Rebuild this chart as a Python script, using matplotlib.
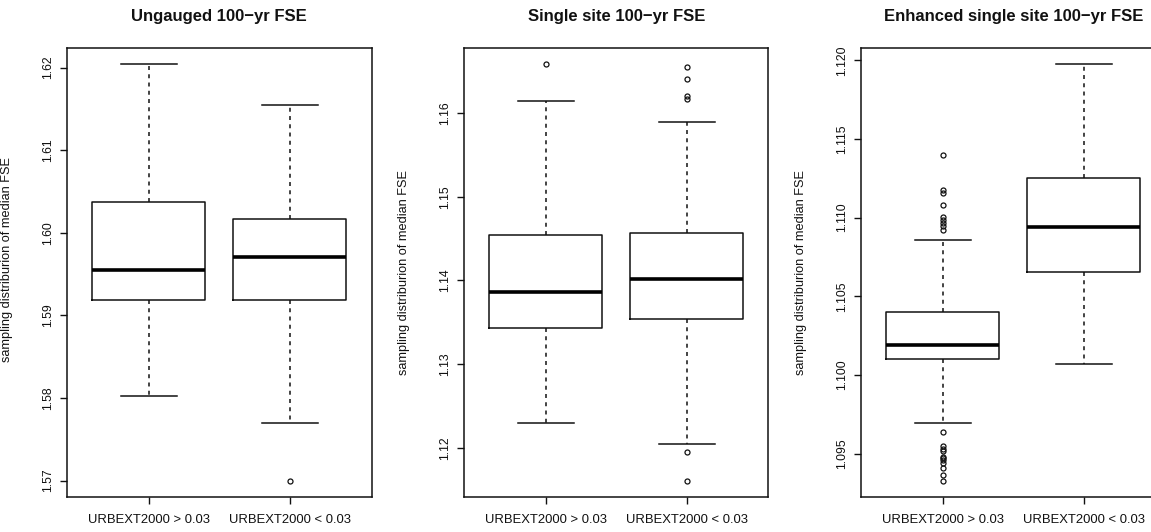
import matplotlib
matplotlib.use("Agg")
import matplotlib.pyplot as plt
import numpy as np

plt.rcParams['font.family'] = ['Liberation Sans', 'DejaVu Sans']

groups = ["URBEXT2000 > 0.03", "URBEXT2000 < 0.03"]
titles = ["Ungauged 100\u2212yr FSE", "Single site 100\u2212yr FSE",
          "Enhanced single site 100\u2212yr FSE"]
ylabel = "sampling distriburion of median FSE"

# box stats: whislo, q1, med, q3, whishi
ungauged_stats = [
    [1.58026, 1.59192, 1.59553, 1.60378, 1.62040],
    [1.57697, 1.59183, 1.59709, 1.60169, 1.61548],
]
ungauged_fliers = [[], [1.5700]]

single_stats = [
    [1.12296, 1.13426, 1.13864, 1.14541, 1.16142],
    [1.12040, 1.13536, 1.14018, 1.14569, 1.15891],
]
single_fliers = [
    [1.16584],
    [1.16551, 1.16405, 1.16210, 1.16167, 1.11951, 1.11607],
]

enhanced_stats = [
    [1.09693, 1.10100, 1.10189, 1.10400, 1.10858],
    [1.10072, 1.10655, 1.10940, 1.11249, 1.11974],
]
enhanced_fliers = [
    [1.11396, 1.11173, 1.11156, 1.11078, 1.11001, 1.10982, 1.10963,
     1.10944, 1.10923,
     1.09640, 1.09546, 1.09530, 1.09515, 1.09481, 1.09470, 1.09460,
     1.09438, 1.09406, 1.09362, 1.09328],
    [],
]

yticks = [np.arange(1.57, 1.6201, 0.01), np.arange(1.12, 1.1601, 0.01),
          np.arange(1.095, 1.1201, 0.005)]
yfmt = ["%.2f", "%.2f", "%.3f"]

W, H = 1151, 532
fig = plt.figure(figsize=(W / 100, H / 100), dpi=100)

# pixel extents of each plot frame (left, right); panel 3 is cut by the image edge
frames = [(67, 372), (464, 768), (861, 1151)]
top_px, bot_px = 47.7, 497.3
unit_px = 141.0

all_stats = [ungauged_stats, single_stats, enhanced_stats]
all_fliers = [ungauged_fliers, single_fliers, enhanced_fliers]
label_y = [0.53, 0.5, 0.5]

lc = "#111111"
for i in range(3):
    l, r = frames[i]
    ax = fig.add_axes([l / W, (H - bot_px) / H, (r - l) / W, (bot_px - top_px) / H])
    stats = []
    for s, f in zip(all_stats[i], all_fliers[i]):
        stats.append(dict(whislo=s[0], q1=s[1], med=s[2], q3=s[3], whishi=s[4],
                          fliers=f))
    ax.bxp(stats, positions=[1, 2], widths=0.8, capwidths=0.4,
           boxprops=dict(color=lc, linewidth=1.1),
           medianprops=dict(color="black", linewidth=2.6, solid_capstyle="butt"),
           whiskerprops=dict(color=lc, linewidth=1.1, linestyle=(0, (2.6, 2.8))),
           capprops=dict(color=lc, linewidth=1.1),
           flierprops=dict(marker="o", markersize=3.6, markerfacecolor="none",
                           markeredgecolor=lc, markeredgewidth=0.9))

    vals = [v for s in all_stats[i] for v in s] + [v for f in all_fliers[i] for v in f]
    lo, hi = min(vals), max(vals)
    pad = 0.04 * (hi - lo)
    ax.set_ylim(lo - pad, hi + pad)
    ax.set_xlim(0.42, 0.42 + (r - l) / unit_px)

    ax.set_yticks(yticks[i])
    ax.set_yticklabels([yfmt[i] % v for v in yticks[i]], rotation=90, va="center")
    ax.set_xticks([1, 2])
    ax.set_xticklabels(groups)
    ax.tick_params(axis="y", direction="out", length=5.3, width=1.0, pad=4,
                   labelsize=8.8, colors=lc)
    ax.tick_params(axis="x", direction="out", length=5.3, width=1.0, pad=6.5,
                   labelsize=9.4, colors=lc)
    for sp in ax.spines.values():
        sp.set_linewidth(1.1)
        sp.set_color(lc)
    if i == 2:
        ax.spines["right"].set_visible(False)

    ax.set_ylabel(ylabel, fontsize=9.2, color=lc)
    ax.yaxis.set_label_coords(-54.0 / (r - l), label_y[i])

    # title centred on the full (uncut) frame
    full_w = 2.16 * unit_px
    ax.text((full_w / 2) / (r - l), 1 + 30.7 / (bot_px - top_px), titles[i],
            transform=ax.transAxes, ha="center", va="center",
            fontsize=12, fontweight="bold", color=lc)

fig.savefig("out.png", dpi=100)
